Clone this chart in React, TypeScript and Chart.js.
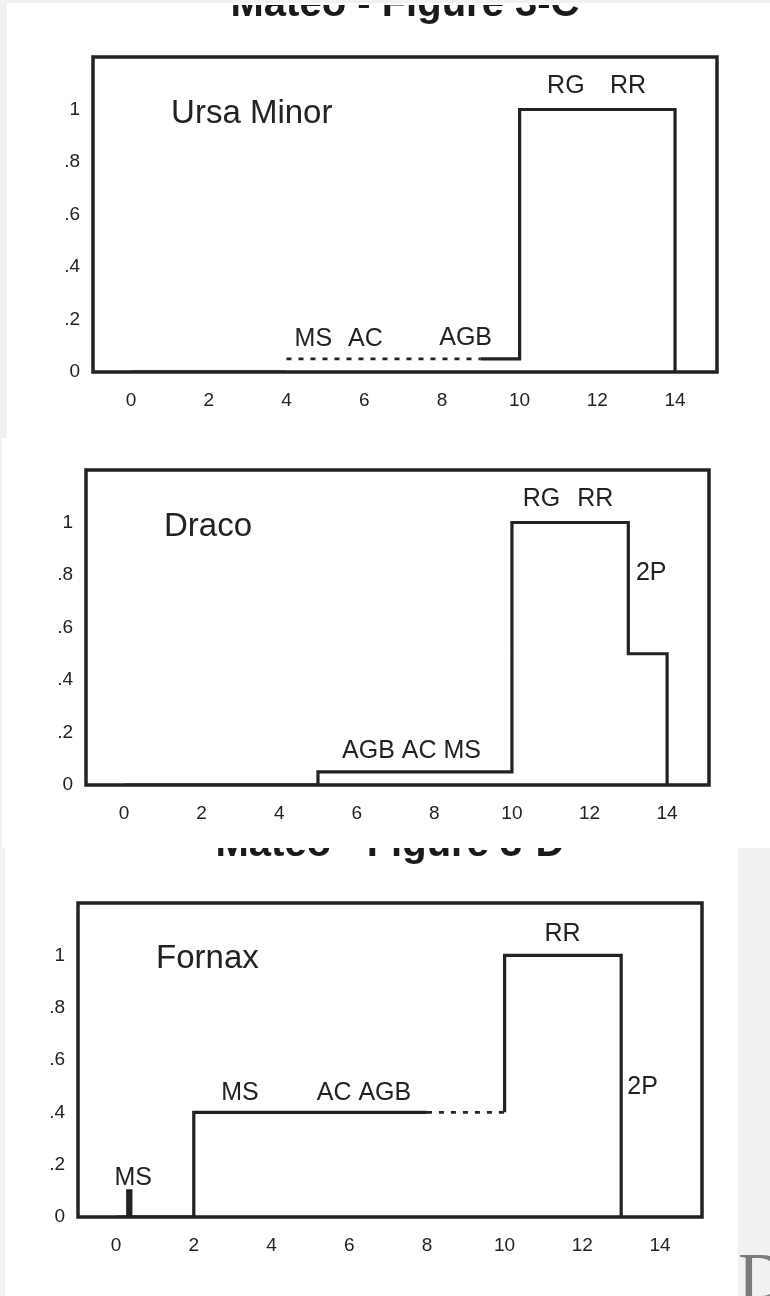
import React, { useEffect, useRef } from "react";
import { Chart, registerables } from "chart.js";

Chart.register(...registerables);

// Shared axis ticks (age in Gyr on x, relative star-formation rate on y)
const xTickValues = [0, 2, 4, 6, 8, 10, 12, 14];
const yTickValues = [0, 0.2, 0.4, 0.6, 0.8, 1];
const yTickLabels = ["0", ".2", ".4", ".6", ".8", "1"];

// Ursa Minor: bin edges, level per bin, dotted (uncertain) bins
const umiEdges = [0, 4, 9, 10, 14];
const umiLevels = [0, 0.05, 0.05, 1];
const umiDotted = [false, true, false, false];
const umiTags = ["MS", "AC", "AGB", "RG", "RR"];
const umiTagX = [4.69, 6.03, 8.61, 11.19, 12.79];
const umiTagY = [0.125, 0.125, 0.13, 1.09, 1.09];

// Draco
const draEdges = [0, 5, 10, 13, 14];
const draLevels = [0, 0.05, 1, 0.5];
const draDotted = [false, false, false, false];
const draTags = ["AGB AC MS", "RG", "RR", "2P"];
const draTagX = [7.41, 10.76, 12.15, 13.59];
const draTagY = [0.13, 1.09, 1.09, 0.806];

// Fornax (narrow early burst near 0.3 Gyr)
const fnxEdges = [0, 0.3, 0.38, 2, 8, 10, 13];
const fnxLevels = [0, 0.1, 0, 0.4, 0.4, 1];
const fnxDotted = [false, false, false, false, true, false];
const fnxTags = ["MS", "MS", "AC AGB", "RR", "2P"];
const fnxTagX = [0.44, 3.19, 6.38, 11.49, 13.55];
const fnxTagY = [0.15, 0.475, 0.475, 1.08, 0.495];

const INK = "#222222";
const SANS = "'Liberation Sans', Arial, sans-serif";

type Pt = { x: number; y: number };

// Turn a step history into polyline runs, one per solid/dotted stretch.
function stepRuns(edges: number[], levels: number[], dotted: boolean[]) {
  const runs: { pts: Pt[]; dotted: boolean }[] = [];
  let i = 0;
  while (i < levels.length) {
    let j = i;
    while (j + 1 < levels.length && dotted[j + 1] === dotted[i]) j++;
    const pts: Pt[] = [];
    if (!dotted[i] && i > 0) pts.push({ x: edges[i], y: levels[i - 1] });
    for (let k = i; k <= j; k++) {
      pts.push({ x: edges[k], y: levels[k] });
      pts.push({ x: edges[k + 1], y: levels[k] });
    }
    if (j === levels.length - 1) pts.push({ x: edges[j + 1], y: 0 });
    runs.push({ pts, dotted: dotted[i] });
    i = j + 1;
  }
  return runs;
}

type PanelCfg = {
  left: number;
  top: number;
  width: number;
  height: number;
  area: { left: number; top: number; right: number; bottom: number };
  heading?: string;
  headingBaseline?: number;
  headingClipTop?: number;
  name: string;
  edges: number[];
  levels: number[];
  dotted: boolean[];
  tags: string[];
  tagX: number[];
  tagY: number[];
};

const panels: PanelCfg[] = [
  {
    left: 7, top: 3, width: 763, height: 435,
    area: { left: 86, top: 54, right: 710, bottom: 369 },
    heading: "Mateo - Figure 3-C", headingBaseline: 13, headingClipTop: 2,
    name: "Ursa Minor",
    edges: umiEdges, levels: umiLevels, dotted: umiDotted,
    tags: umiTags, tagX: umiTagX, tagY: umiTagY,
  },
  {
    left: 2, top: 438, width: 768, height: 410,
    area: { left: 84, top: 32, right: 707, bottom: 347 },
    name: "Draco",
    edges: draEdges, levels: draLevels, dotted: draDotted,
    tags: draTags, tagX: draTagX, tagY: draTagY,
  },
  {
    left: 5, top: 848, width: 733, height: 448,
    area: { left: 73, top: 55, right: 697, bottom: 369 },
    heading: "Mateo - Figure 3-D", headingBaseline: 8, headingClipTop: 0,
    name: "Fornax",
    edges: fnxEdges, levels: fnxLevels, dotted: fnxDotted,
    tags: fnxTags, tagX: fnxTagX, tagY: fnxTagY,
  },
];

function Panel({ cfg }: { cfg: PanelCfg }) {
  const ref = useRef<HTMLCanvasElement>(null);

  useEffect(() => {
    const canvas = ref.current;
    if (!canvas) return;
    const runs = stepRuns(cfg.edges, cfg.levels, cfg.dotted);

    const decor = {
      id: "panelDecor",
      afterDatasetsDraw(chart: any) {
        const { ctx, chartArea: a, scales } = chart;
        const sx = scales.x;
        const sy = scales.y;
        ctx.save();
        // frame around the plot
        ctx.strokeStyle = INK;
        ctx.lineWidth = 3.5;
        ctx.lineJoin = "miter";
        ctx.strokeRect(a.left, a.top, a.right - a.left, a.bottom - a.top);

        ctx.fillStyle = INK;
        // galaxy name
        ctx.font = `33px ${SANS}`;
        ctx.textAlign = "left";
        ctx.textBaseline = "middle";
        ctx.fillText(cfg.name, sx.getPixelForValue(1.03), sy.getPixelForValue(0.985));

        // stellar population tags
        ctx.font = `25px ${SANS}`;
        ctx.textAlign = "center";
        cfg.tags.forEach((t, i) => {
          ctx.fillText(t, sx.getPixelForValue(cfg.tagX[i]), sy.getPixelForValue(cfg.tagY[i]));
        });
        ctx.restore();

        // page heading, partly cut off by the top edge
        if (cfg.heading) {
          ctx.save();
          const clipTop = cfg.headingClipTop || 0;
          ctx.beginPath();
          ctx.rect(0, clipTop, chart.width, a.top - clipTop);
          ctx.clip();
          ctx.fillStyle = "#1a1a1a";
          ctx.font = `bold 40px ${SANS}`;
          ctx.textAlign = "center";
          ctx.textBaseline = "alphabetic";
          ctx.fillText(cfg.heading, (a.left + a.right) / 2, cfg.headingBaseline);
          ctx.restore();
        }
      },
    };

    const chart = new Chart(canvas, {
      type: "line",
      data: {
        datasets: runs.map((r, i) => ({
          label: `${cfg.name} ${i}`,
          data: r.pts,
          borderColor: INK,
          borderWidth: r.dotted ? 2.6 : 3.2,
          borderDash: r.dotted ? [5, 7] : [],
          borderCapStyle: "butt",
          borderJoinStyle: "miter",
          pointRadius: 0,
          fill: false,
          tension: 0,
        })),
      },
      options: {
        responsive: false,
        maintainAspectRatio: false,
        animation: false,
        events: [],
        layout: {
          padding: {
            left: 0,
            top: cfg.area.top,
            right: cfg.width - cfg.area.right,
            bottom: 0,
          },
        },
        plugins: {
          legend: { display: false },
          tooltip: { enabled: false },
          title: { display: false },
        },
        scales: {
          x: {
            type: "linear",
            min: -0.98,
            max: 15.08,
            grid: { display: false, drawTicks: false },
            border: { display: false },
            afterBuildTicks: (scale: any) => {
              scale.ticks = xTickValues.map((v) => ({ value: v }));
            },
            afterFit: (scale: any) => {
              scale.height = cfg.height - cfg.area.bottom;
            },
            ticks: {
              padding: 17,
              maxRotation: 0,
              autoSkip: false,
              color: INK,
              font: { family: SANS, size: 19 },
              callback: (v: any) => String(v),
            },
          },
          y: {
            type: "linear",
            min: 0,
            max: 1.2,
            grid: { display: false, drawTicks: false },
            border: { display: false },
            afterBuildTicks: (scale: any) => {
              scale.ticks = yTickValues.map((v) => ({ value: v }));
            },
            afterFit: (scale: any) => {
              scale.width = cfg.area.left;
            },
            ticks: {
              padding: 13,
              autoSkip: false,
              color: INK,
              font: { family: SANS, size: 19 },
              callback: (v: any) => {
                const k = yTickValues.indexOf(v);
                return k >= 0 ? yTickLabels[k] : "";
              },
            },
          },
        },
      },
      plugins: [decor],
    } as any);

    return () => chart.destroy();
  }, [cfg]);

  return (
    <div
      style={{
        position: "absolute",
        left: cfg.left,
        top: cfg.top,
        width: cfg.width,
        height: cfg.height,
        background: "#ffffff",
        overflow: "hidden",
      }}
    >
      <canvas
        ref={ref}
        width={cfg.width}
        height={cfg.height}
        style={{ display: "block", width: cfg.width, height: cfg.height }}
      />
    </div>
  );
}

export default function App() {
  return (
    <div
      style={{
        position: "absolute",
        left: 0,
        top: 0,
        width: 770,
        height: 1296,
        overflow: "hidden",
        background: "#f1f1f1",
      }}
    >
      {panels.map((p) => (
        <Panel key={p.name} cfg={p} />
      ))}
      <div
        style={{
          position: "absolute",
          left: 738,
          top: 1242,
          fontFamily: "'Liberation Serif', 'DejaVu Serif', serif",
          fontSize: 68,
          lineHeight: 1,
          color: "#7a7a7a",
        }}
      >
        D
      </div>
    </div>
  );
}
